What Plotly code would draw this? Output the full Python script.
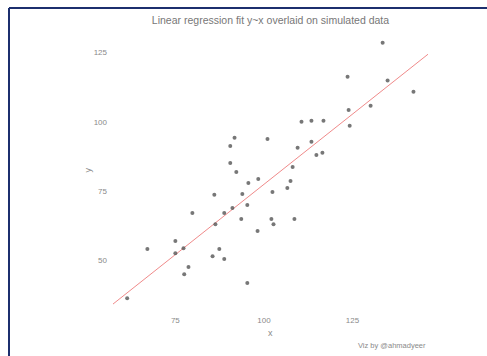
import numpy as np
import plotly.graph_objects as go

# Simulated observations
x_vals = [133.5, 123.6, 134.9, 142.2, 123.9, 130.1, 110.6, 113.4, 116.8, 124.2,
          91.7, 101.0, 90.5, 109.5, 113.4, 114.8, 116.5, 90.5, 108.1, 92.2,
          95.6, 98.4, 107.5, 86.0, 93.9, 102.4, 106.6, 79.8, 88.8, 91.1,
          95.3, 93.6, 102.1, 102.7, 108.6, 86.3, 98.2, 75.0, 67.1, 75.0,
          77.3, 87.4, 85.5, 88.8, 78.7, 77.5, 95.3, 61.4]
y_vals = [128.6, 116.3, 114.9, 110.9, 104.3, 105.8, 100.0, 100.4, 100.4, 98.6,
          94.2, 93.8, 91.3, 90.6, 92.8, 88.0, 88.8, 85.1, 83.7, 81.9,
          77.9, 79.3, 78.6, 73.6, 73.9, 74.6, 76.1, 67.0, 67.0, 68.8,
          69.9, 64.9, 64.9, 63.0, 64.9, 63.0, 60.5, 56.9, 54.0, 52.5,
          54.3, 54.0, 51.4, 50.4, 47.5, 44.9, 41.7, 36.2]

x_ticks = [75, 100, 125]
y_ticks = [50, 75, 100, 125]

x_range = [57.4, 146.3]
y_range = [31.6, 133.2]

# Ordinary least squares fit y ~ x
slope, intercept = np.polyfit(x_vals, y_vals, 1)
line_x = np.array(x_range)
line_y = intercept + slope * line_x

W, H = 487, 356
ml, mr, mt, mb = 113, 59, 30, 45
pw, ph = W - ml - mr, H - mt - mb


def px(xp):
    return (xp - ml) / pw


def py(yp):
    return (H - mb - yp) / ph


fig = go.Figure()
fig.add_trace(go.Scatter(
    x=line_x, y=line_y, mode="lines",
    line=dict(color="#f08a8a", width=1), hoverinfo="skip", showlegend=False,
))
fig.add_trace(go.Scatter(
    x=x_vals, y=y_vals, mode="markers",
    marker=dict(color="#555555", size=4, opacity=0.8),
    showlegend=False,
))

axis_font = dict(family="Liberation Sans, Arial, sans-serif", size=8, color="#8a8a8a")

fig.update_layout(
    width=W, height=H,
    margin=dict(l=ml, r=mr, t=mt, b=mb),
    paper_bgcolor="white", plot_bgcolor="white",
    title=dict(
        text="Linear regression fit y~x overlaid on simulated data",
        x=0.5, xref="paper", xanchor="center",
        y=1 - 20 / H, yref="container", yanchor="middle",
        font=dict(family="Liberation Sans, Arial, sans-serif", size=10.5, color="#777777"),
    ),
    xaxis=dict(range=x_range, tickvals=x_ticks, showgrid=False, zeroline=False,
               showline=False, ticks="", tickfont=axis_font, ticklabelstandoff=3),
    yaxis=dict(range=y_range, tickvals=y_ticks, showgrid=False, zeroline=False,
               showline=False, ticks="", tickfont=axis_font, ticklabelstandoff=5),
    annotations=[
        dict(text="x", x=0.5, y=py(333), xref="paper", yref="paper",
             showarrow=False, xanchor="center", yanchor="middle",
             font=dict(family="Liberation Sans, Arial, sans-serif", size=9, color="#8a8a8a")),
        dict(text="y", x=px(87), y=0.5, xref="paper", yref="paper", textangle=-90,
             showarrow=False, xanchor="center", yanchor="middle",
             font=dict(family="Liberation Sans, Arial, sans-serif", size=9, color="#8a8a8a")),
        dict(text="Viz by @ahmadyeer", x=1, y=py(345), xref="paper", yref="paper",
             showarrow=False, xanchor="right", yanchor="middle",
             font=dict(family="Liberation Sans, Arial, sans-serif", size=7.5, color="#8a8a8a")),
    ],
    shapes=[
        dict(type="line", xref="paper", yref="paper", x0=px(9), x1=px(9), y0=py(8), y1=py(H + 2),
             line=dict(color="#1c2f6e", width=2)),
        dict(type="line", xref="paper", yref="paper", x0=px(9), x1=px(W + 2), y0=py(8), y1=py(8),
             line=dict(color="#1c2f6e", width=2)),
    ],
)

fig.write_html("out.html")
